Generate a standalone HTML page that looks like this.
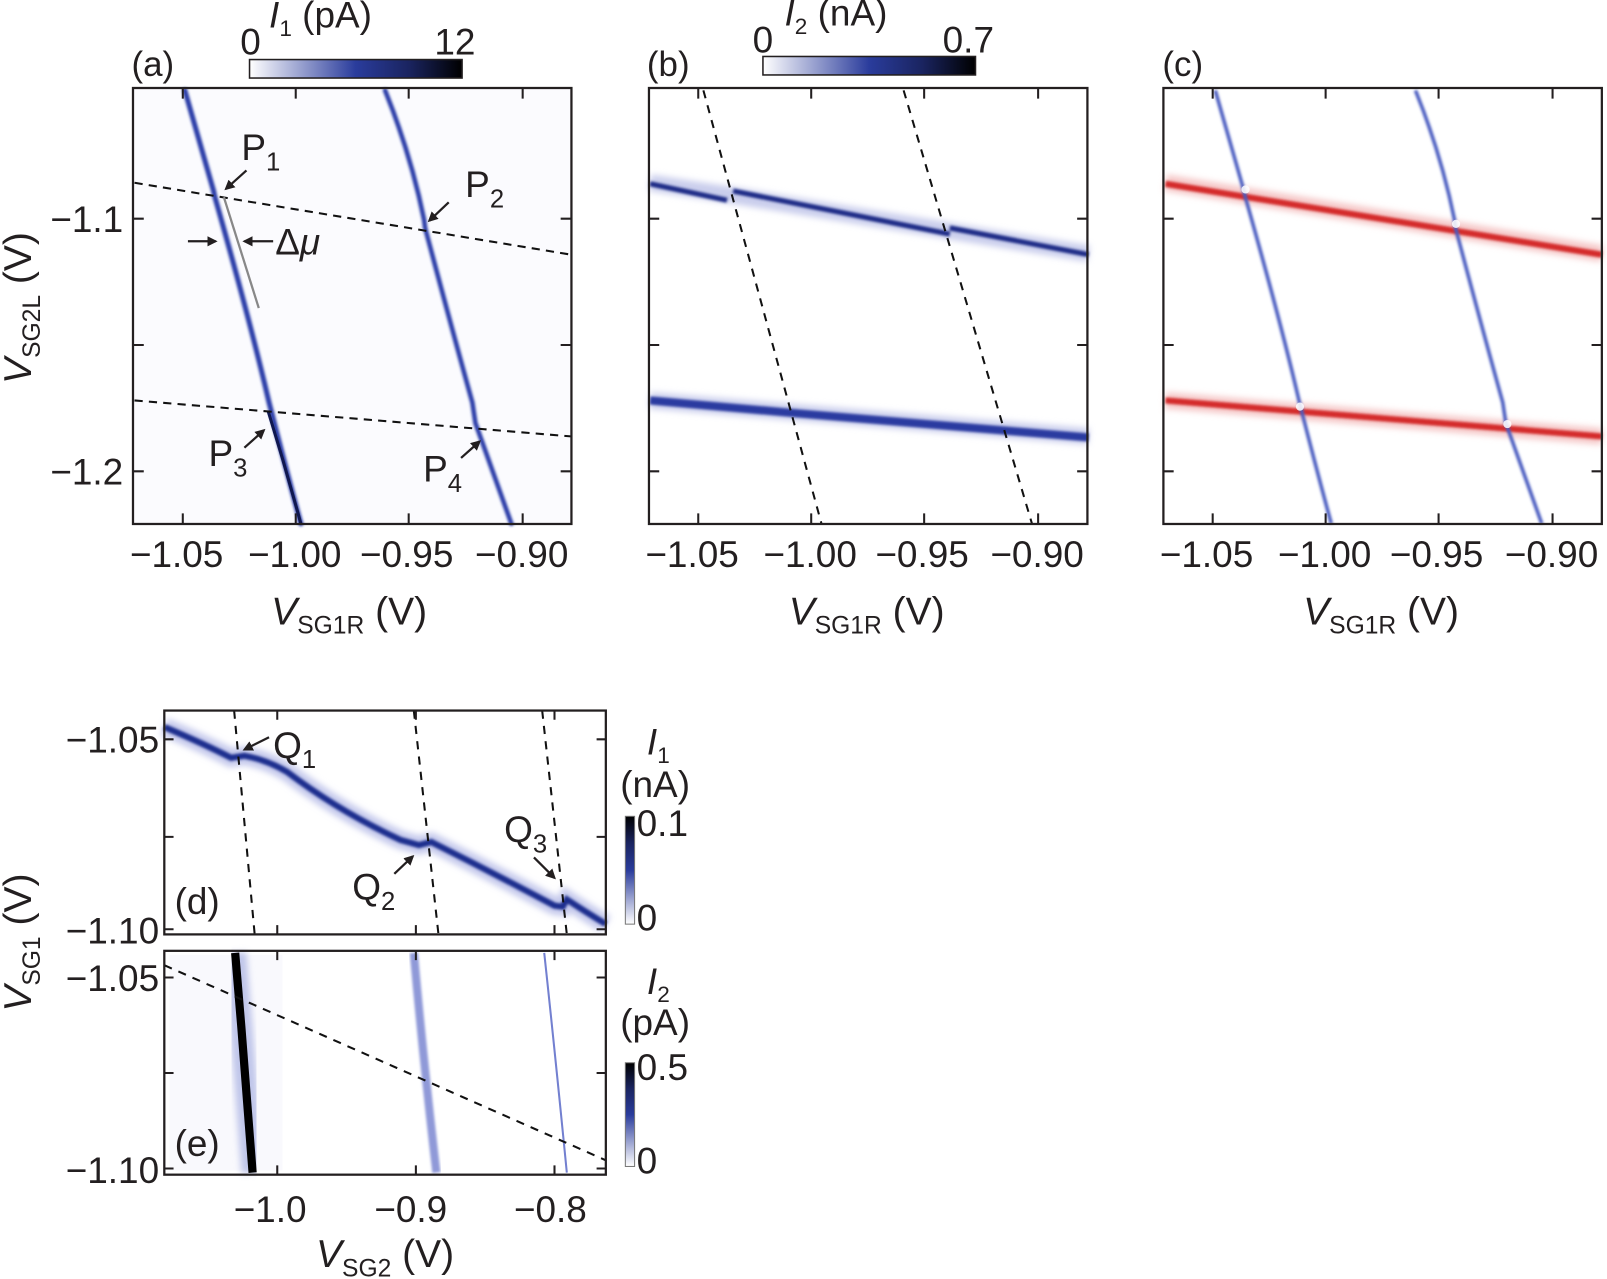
<!DOCTYPE html>
<html><head><meta charset="utf-8"><style>
html,body{margin:0;padding:0;background:#fff;}
svg{display:block;}
text{font-family:"Liberation Sans",sans-serif;fill:#231f20;}
</style></head><body>
<svg width="1607" height="1279" viewBox="0 0 1565 1245.6" xmlns="http://www.w3.org/2000/svg">
<defs>
<linearGradient id="cbh" x1="0" x2="1" y1="0" y2="0">
<stop offset="0" stop-color="#ffffff"/><stop offset="0.5" stop-color="#2a3c9c"/><stop offset="0.75" stop-color="#1a2460"/><stop offset="1" stop-color="#000"/></linearGradient>
<linearGradient id="cbv" x1="0" x2="0" y1="1" y2="0">
<stop offset="0" stop-color="#ffffff"/><stop offset="0.5" stop-color="#2a3c9c"/><stop offset="0.75" stop-color="#1a2460"/><stop offset="1" stop-color="#000"/></linearGradient>
<filter id="b1" x="-20%" y="-20%" width="140%" height="140%"><feGaussianBlur stdDeviation="1.2"/></filter>
<filter id="b3" x="-20%" y="-20%" width="140%" height="140%"><feGaussianBlur stdDeviation="3"/></filter>
<marker id="ar" markerWidth="10" markerHeight="10" refX="8" refY="5" orient="auto" markerUnits="userSpaceOnUse"><path d="M0,0 L10,5 L0,10 z" fill="#231f20"/></marker>
</defs>

<!-- ===== Panel (a) ===== -->
<rect x="129.5" y="85.7" width="427" height="424.6" fill="#fbfbfe"/>
<g fill="none" stroke-linecap="round">
<path d="M180,88 Q195,140 208,186 L209,191 Q240,300 258,375 L262,392 Q278,455 293,510" stroke="#2c3ea8" stroke-width="5" filter="url(#b1)"/>
<path d="M375,88 Q400,150 413,214 L414,222 Q440,320 460,392 L463,412 Q480,460 498,510" stroke="#2c3ea8" stroke-width="4.5" filter="url(#b1)"/>
</g>
<path d="M261,400 Q278,455 293,510" stroke="#101850" stroke-width="3" fill="none"/>
<line x1="131" y1="178" x2="556" y2="248" stroke="#111" stroke-width="2" stroke-dasharray="8,6"/>
<line x1="131" y1="390" x2="556" y2="425" stroke="#111" stroke-width="2" stroke-dasharray="8,6"/>
<line x1="218" y1="192" x2="252" y2="300" stroke="#888" stroke-width="2.2"/>
<g stroke="#231f20" stroke-width="2.2" marker-end="url(#ar)">
<line x1="240" y1="166" x2="220" y2="184"/>
<line x1="183" y1="235" x2="210" y2="235"/>
<line x1="266" y1="235" x2="238" y2="235"/>
<line x1="437" y1="197" x2="418" y2="215"/>
<line x1="238" y1="436" x2="257" y2="419"/>
<line x1="449" y1="446" x2="467" y2="430"/>
</g>
<g font-size="36">
<text x="235" y="156">P<tspan font-size="25" dy="10">1</tspan></text>
<text x="268" y="248">Δ<tspan font-style="italic">μ</tspan></text>
<text x="453" y="192">P<tspan font-size="25" dy="10">2</tspan></text>
<text x="203" y="454">P<tspan font-size="25" dy="10">3</tspan></text>
<text x="412" y="469">P<tspan font-size="25" dy="10">4</tspan></text>
</g>

<!-- ===== Panel (b) ===== -->
<rect x="632" y="85.7" width="427" height="424.6" fill="#fff"/>
<g fill="none" filter="url(#b3)" stroke="#c9cdec" stroke-width="16">
<path d="M633,178 L712,190 L1060,247"/>
<path d="M633,390 L1060,425"/>
</g>
<g fill="none">
<path d="M633,179 L708,195 M714,186 L925,228 M925,222 L1060,248" stroke="#1d2b86" stroke-width="5" filter="url(#b1)"/>
<path d="M633,390 L770,402 L1060,426" stroke="#2a3ba0" stroke-width="8" filter="url(#b1)"/>
</g>
<line x1="685" y1="88" x2="800" y2="510" stroke="#111" stroke-width="2" stroke-dasharray="8,7"/>
<line x1="880" y1="88" x2="1005" y2="510" stroke="#111" stroke-width="2" stroke-dasharray="8,7"/>

<!-- ===== Panel (c) ===== -->
<rect x="1133" y="85.7" width="427" height="424.6" fill="#fff"/>
<g fill="none" filter="url(#b3)" stroke="#f5c6c6" stroke-width="16">
<path d="M1135,178 L1560,247"/>
<path d="M1135,390 L1560,425"/>
</g>
<g fill="none" stroke="#d42a2a" filter="url(#b1)">
<path d="M1135,179 L1560,248" stroke-width="6"/>
<path d="M1135,390 L1560,425" stroke-width="6"/>
</g>
<g fill="none" stroke="#4a5cc0" stroke-width="3.5" filter="url(#b1)" transform="translate(1003.5,0)">
<path d="M180,88 Q195,140 208,186 L209,191 Q240,300 258,375 L262,392 Q278,455 293,510"/>
<path d="M375,88 Q400,150 413,214 L414,222 Q440,320 460,392 L463,412 Q480,460 498,510"/>
</g>
<g fill="#fff" opacity="0.85">
<circle cx="1213" cy="184.5" r="4"/><circle cx="1418" cy="218" r="4"/>
<circle cx="1266" cy="396" r="4"/><circle cx="1468" cy="413" r="4"/>
</g>

<!-- axes boxes and ticks for a,b,c -->
<g fill="none" stroke="#231f20" stroke-width="2.2">
<rect x="129.5" y="85.7" width="427" height="424.6"/>
<rect x="632" y="85.7" width="427" height="424.6"/>
<rect x="1133" y="85.7" width="427" height="424.6"/>
</g>
<g stroke="#231f20" stroke-width="2">
<path d="M178,510 v-10 M288,510 v-10 M398,510 v-10 M509,510 v-10 M178,86 v10 M288,86 v10 M398,86 v10 M509,86 v10
M130,213 h10 M130,336 h10 M130,459 h10 M556,213 h-10 M556,336 h-10 M556,459 h-10"/>
<path d="M680,510 v-10 M790,510 v-10 M900,510 v-10 M1011,510 v-10 M680,86 v10 M790,86 v10 M900,86 v10 M1011,86 v10
M632,213 h10 M632,336 h10 M632,459 h10 M1059,213 h-10 M1059,336 h-10 M1059,459 h-10"/>
<path d="M1181,510 v-10 M1291,510 v-10 M1401,510 v-10 M1512,510 v-10 M1181,86 v10 M1291,86 v10 M1401,86 v10 M1512,86 v10
M1133,213 h10 M1133,336 h10 M1133,459 h10 M1560,213 h-10 M1560,336 h-10 M1560,459 h-10"/>
</g>
<g font-size="36" text-anchor="middle">
<text x="172" y="552">−1.05</text><text x="287" y="552">−1.00</text><text x="396" y="552">−0.95</text><text x="508" y="552">−0.90</text>
<text x="674" y="552">−1.05</text><text x="789" y="552">−1.00</text><text x="898" y="552">−0.95</text><text x="1010" y="552">−0.90</text>
<text x="1175" y="552">−1.05</text><text x="1290" y="552">−1.00</text><text x="1399" y="552">−0.95</text><text x="1511" y="552">−0.90</text>
</g>
<g font-size="36" text-anchor="end">
<text x="120" y="226">−1.1</text><text x="120" y="472">−1.2</text>
</g>
<g font-size="38" text-anchor="middle">
<text x="340" y="608"><tspan font-style="italic">V</tspan><tspan font-size="24" dy="9">SG1R</tspan><tspan dy="-9"> (V)</tspan></text>
<text x="844" y="608"><tspan font-style="italic">V</tspan><tspan font-size="24" dy="9">SG1R</tspan><tspan dy="-9"> (V)</tspan></text>
<text x="1345" y="608"><tspan font-style="italic">V</tspan><tspan font-size="24" dy="9">SG1R</tspan><tspan dy="-9"> (V)</tspan></text>
</g>
<text transform="translate(30,300) rotate(-90)" font-size="38" text-anchor="middle"><tspan font-style="italic">V</tspan><tspan font-size="24" dy="9">SG2L</tspan><tspan dy="-9"> (V)</tspan></text>
<g font-size="34">
<text x="128" y="74">(a)</text><text x="630" y="74">(b)</text><text x="1132" y="74">(c)</text>
</g>
<!-- colorbars -->
<rect x="243" y="58" width="207" height="18" fill="url(#cbh)" stroke="#231f20" stroke-width="1.5"/>
<rect x="743" y="55" width="207" height="18" fill="url(#cbh)" stroke="#231f20" stroke-width="1.5"/>
<g font-size="36">
<text x="234" y="53">0</text><text x="423" y="53">12</text>
<text x="262" y="27"><tspan font-style="italic">I</tspan><tspan font-size="22" dy="8">1</tspan><tspan dy="-8"> (pA)</tspan></text>
<text x="733" y="51">0</text><text x="918" y="51">0.7</text>
<text x="764" y="25"><tspan font-style="italic">I</tspan><tspan font-size="22" dy="8">2</tspan><tspan dy="-8"> (nA)</tspan></text>
</g>

<!-- ===== Panel (d) ===== -->
<rect x="160" y="692" width="430" height="218" fill="#fff"/>
<path d="M160,708 Q200,725 225,738 L238,736 Q260,740 280,752 Q330,790 390,818 L408,823 L420,820 Q480,850 540,882 L548,883 L552,876 Q570,888 590,900" fill="none" stroke="#c5c9ec" stroke-width="18" filter="url(#b3)"/>
<path d="M160,708 Q200,725 225,738 L238,736 Q260,740 280,752 Q330,790 390,818 L408,823 L420,820 Q480,850 540,882 L548,883 L552,876 Q570,888 590,900" fill="none" stroke="#1f2d8e" stroke-width="6" filter="url(#b1)"/>
<line x1="228" y1="692" x2="248" y2="910" stroke="#111" stroke-width="2" stroke-dasharray="8,7"/>
<line x1="403" y1="692" x2="427" y2="910" stroke="#111" stroke-width="2" stroke-dasharray="8,7"/>
<line x1="528" y1="692" x2="552" y2="910" stroke="#111" stroke-width="2" stroke-dasharray="8,7"/>

<!-- ===== Panel (e) ===== -->
<rect x="160" y="926" width="430" height="218" fill="#fff"/>
<rect x="165" y="930" width="110" height="210" fill="#f3f4fb" opacity="0.5"/>
<path d="M229,928 L235,1000 L246,1142" stroke="#c0c6ea" stroke-width="22" fill="none" filter="url(#b3)"/>
<path d="M229,928 L235,1000 L246,1142" stroke="#000" stroke-width="8" fill="none"/>
<path d="M403,928 Q412,1030 425,1142" stroke="#8f99d8" stroke-width="8" fill="none" filter="url(#b1)"/>
<path d="M530,928 Q541,1030 552,1142" stroke="#7380d0" stroke-width="2" fill="none"/>
<line x1="160" y1="940" x2="590" y2="1130" stroke="#111" stroke-width="2" stroke-dasharray="8,7"/>

<g fill="none" stroke="#231f20" stroke-width="2.2">
<rect x="160" y="692" width="430" height="218"/>
<rect x="160" y="926" width="430" height="218"/>
</g>
<g stroke="#231f20" stroke-width="2">
<path d="M270,910 v-9 M405,910 v-9 M540,910 v-9 M270,692 v9 M405,692 v9 M540,692 v9
M160,720 h9 M160,815 h9 M160,905 h9 M590,720 h-9 M590,815 h-9 M590,905 h-9
M270,1144 v-9 M405,1144 v-9 M540,1144 v-9 M270,926 v9 M405,926 v9 M540,926 v9
M160,952 h9 M160,1045 h9 M160,1138 h9 M590,952 h-9 M590,1045 h-9 M590,1138 h-9"/>
</g>
<g font-size="36" text-anchor="end">
<text x="155" y="733">−1.05</text><text x="155" y="919">−1.10</text>
<text x="155" y="965">−1.05</text><text x="155" y="1152">−1.10</text>
</g>
<g font-size="36" text-anchor="middle">
<text x="263" y="1190">−1.0</text><text x="400" y="1190">−0.9</text><text x="536" y="1190">−0.8</text>
</g>
<text x="375" y="1234" font-size="38" text-anchor="middle"><tspan font-style="italic">V</tspan><tspan font-size="24" dy="9">SG2</tspan><tspan dy="-9"> (V)</tspan></text>
<text transform="translate(30,918) rotate(-90)" font-size="38" text-anchor="middle"><tspan font-style="italic">V</tspan><tspan font-size="24" dy="9">SG1</tspan><tspan dy="-9"> (V)</tspan></text>
<g stroke="#231f20" stroke-width="2.2" marker-end="url(#ar)">
<line x1="262" y1="718" x2="238" y2="730"/>
<line x1="384" y1="851" x2="402" y2="834"/>
<line x1="520" y1="835" x2="540" y2="855"/>
</g>
<g font-size="36">
<text x="266" y="738">Q<tspan font-size="25" dy="10">1</tspan></text>
<text x="343" y="876">Q<tspan font-size="25" dy="10">2</tspan></text>
<text x="491" y="820">Q<tspan font-size="25" dy="10">3</tspan></text>
<text x="170" y="890">(d)</text>
<text x="170" y="1126">(e)</text>
</g>
<!-- d/e colorbars -->
<rect x="609" y="795" width="9" height="105" fill="url(#cbv)" stroke="#777" stroke-width="1"/>
<rect x="609" y="1035" width="9" height="101" fill="url(#cbv)" stroke="#777" stroke-width="1"/>
<g font-size="36">
<text x="630" y="735"><tspan font-style="italic">I</tspan><tspan font-size="22" dy="8">1</tspan></text>
<text x="604" y="776">(nA)</text>
<text x="620" y="814">0.1</text><text x="620" y="906">0</text>
<text x="630" y="968"><tspan font-style="italic">I</tspan><tspan font-size="22" dy="8">2</tspan></text>
<text x="604" y="1008">(pA)</text>
<text x="620" y="1052">0.5</text><text x="620" y="1143">0</text>
</g>
</svg>
</body></html>
